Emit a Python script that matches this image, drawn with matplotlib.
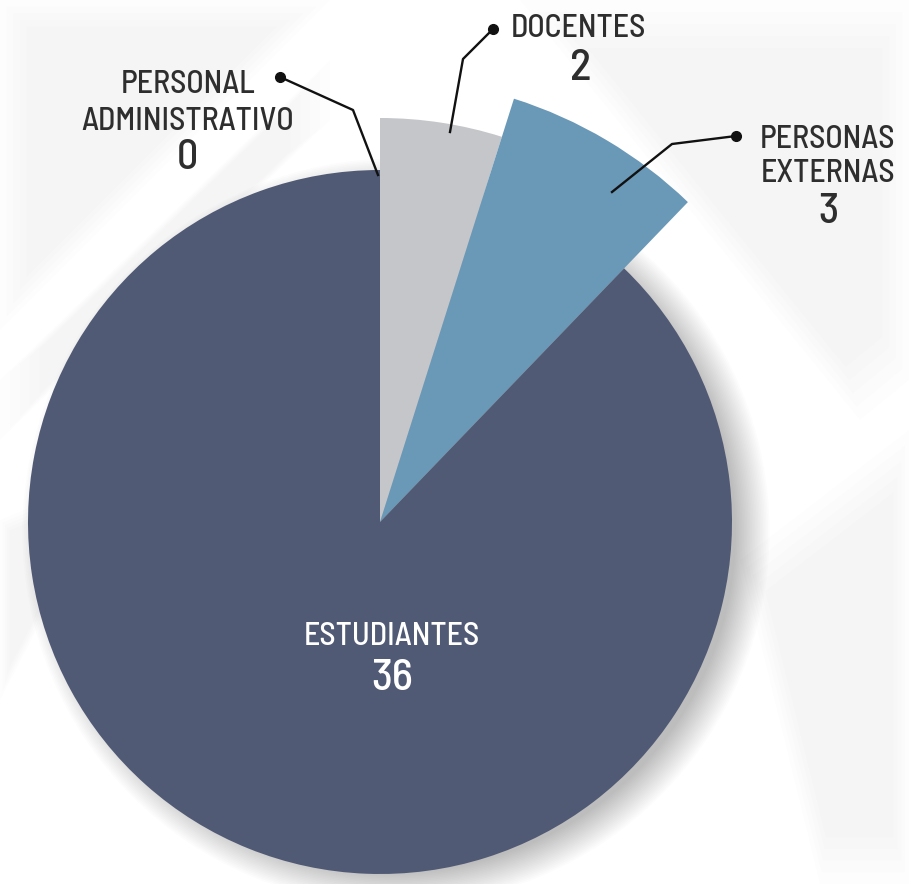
import numpy as np
import matplotlib
matplotlib.use("Agg")
import matplotlib.pyplot as plt
from matplotlib.patches import Wedge, Polygon, Circle
from matplotlib.lines import Line2D

categories = ["PERSONAL\nADMINISTRATIVO", "DOCENTES", "PERSONAS\nEXTERNAS", "ESTUDIANTES"]
values = [0, 2, 3, 36]
colors = ["#8a8a8a", "#c5c6ca", "#6a98b7", "#515a75"]
radii = [352, 404, 444, 352]

W, H = 909, 884
fig = plt.figure(figsize=(W / 100, H / 100), dpi=100)
ax = fig.add_axes([0, 0, 1, 1])
ax.set_xlim(0, W)
ax.set_ylim(H, 0)
ax.axis("off")
fig.patch.set_facecolor("white")

FONT = ["Barlow Semi Condensed", "Barlow Condensed", "DejaVu Sans"]

# faint diagonal background streaks (soft, layered)
bands = [
    [(0, 0), (330, 0), (0, 330)],
    [(0, 380), (330, 60), (330, 120), (0, 440)],
    [(520, 0), (909, 0), (909, 380), (860, 420)],
    [(740, 560), (909, 430), (909, 884), (820, 884)],
    [(0, 520), (120, 470), (0, 700)],
]
for b in bands:
    pts = np.array(b, dtype=float)
    c = pts.mean(axis=0)
    for k in range(5):
        s = 1.0 - k * 0.06
        ax.add_patch(Polygon(c + (pts - c) * s, closed=True, facecolor="black",
                             alpha=0.007, edgecolor="none", zorder=0))

cx, cy = 380, 522
# soft shadow to the lower right of the main disc
for i in range(22):
    ax.add_patch(Circle((cx + 16, cy + 10), 340 + i * 1.6,
                        facecolor="black", alpha=0.011, edgecolor="none", zorder=1))

# wedges clockwise from 12 o'clock; y axis is inverted so angles are negated
total = sum(values)
start = 90.0
for v, c, r in zip(values, colors, radii):
    sweep = v / total * 360.0
    end = start - sweep
    if v > 0:
        ax.add_patch(Wedge((cx, cy), r, -start, -end, facecolor=c,
                           edgecolor="none", zorder=2))
    start = end

# leader lines
leaders = [
    [(280, 77), (353, 110), (378, 175)],
    [(493, 29), (463, 59), (450, 132)],
    [(736, 136), (672, 144), (612, 192)],
]
for pts in leaders:
    xs, ys = zip(*pts)
    ax.add_line(Line2D(xs, ys, color="#111111", lw=1.7, zorder=4))
    ax.plot([xs[0]], [ys[0]], "o", color="#111111", ms=7, zorder=4)

dark = "#2e2e2e"
lab = dict(family=FONT, fontweight="medium", ha="center", va="baseline", zorder=5)
num = dict(family=FONT, fontweight="medium", ha="center", va="baseline", zorder=5)
LS, NS = 23, 31

ax.text(188, 93, "PERSONAL", fontsize=LS, color=dark, **lab)
ax.text(188, 130, "ADMINISTRATIVO", fontsize=LS, color=dark, **lab)
ax.text(187, 169, str(values[0]), fontsize=NS - 1, color=dark, **num)

ax.text(578, 37, "DOCENTES", fontsize=LS, color=dark, **lab)
ax.text(581, 80, str(values[1]), fontsize=NS + 1, color=dark, **num)

ax.text(828, 148, "PERSONAS", fontsize=LS, color=dark, **lab)
ax.text(828, 182, "EXTERNAS", fontsize=LS, color=dark, **lab)
ax.text(828, 223, str(values[2]), fontsize=NS, color=dark, **num)

ax.text(392, 645, "ESTUDIANTES", fontsize=LS, color="white", **lab)
ax.text(392, 690, str(values[3]), fontsize=NS + 1, color="white", **num)

fig.savefig("out.png", dpi=100, facecolor="white")
